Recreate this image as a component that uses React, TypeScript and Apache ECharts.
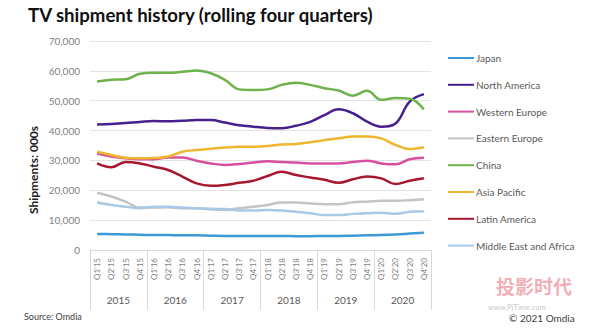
import React, { useEffect, useRef } from "react";
import * as echarts from "echarts";

const quarters = [
  "Q1'15", "Q2'15", "Q3'15", "Q4'15",
  "Q1'16", "Q2'16", "Q3'16", "Q4'16",
  "Q1'17", "Q2'17", "Q3'17", "Q4'17",
  "Q1'18", "Q2'18", "Q3'18", "Q4'18",
  "Q1'19", "Q2'19", "Q3'19", "Q4'19",
  "Q1'20", "Q2'20", "Q3'20", "Q4'20",
];
const years = ["2015", "2016", "2017", "2018", "2019", "2020"];
const yTicks = [0, 10000, 20000, 30000, 40000, 50000, 60000, 70000];

const japan = [5400, 5300, 5200, 5100, 5000, 5000, 4900, 4900, 4800, 4700, 4700, 4700, 4700, 4700, 4600, 4600, 4700, 4700, 4800, 4900, 5000, 5200, 5500, 5800];
const northAmerica = [42000, 42200, 42500, 42900, 43200, 43100, 43300, 43500, 43500, 42700, 41800, 41300, 40900, 40800, 41600, 42900, 45200, 47100, 45800, 43000, 41300, 42400, 49700, 52200];
const westernEurope = [32300, 31300, 30700, 30400, 30400, 31000, 31000, 29900, 29000, 28500, 28800, 29300, 29700, 29500, 29300, 29000, 29000, 29000, 29500, 29900, 29000, 28700, 30400, 30900];
const easternEurope = [19200, 17900, 16200, 14200, 14200, 14300, 14000, 14000, 13600, 13400, 14000, 14500, 15100, 15900, 15900, 15600, 15300, 15300, 16000, 16200, 16500, 16500, 16700, 17000];
const china = [56400, 57000, 57200, 59000, 59400, 59400, 59700, 60100, 59200, 57000, 53800, 53600, 53800, 55300, 56000, 55300, 54200, 53400, 51700, 53300, 50300, 50900, 50700, 47100];
const asiaPacific = [32900, 31800, 30900, 30700, 30800, 31300, 32900, 33500, 33900, 34300, 34600, 34600, 34800, 35300, 35500, 36100, 36800, 37400, 38000, 38000, 37400, 35200, 33800, 34400];
const latinAmerica = [29000, 27700, 29500, 29000, 27900, 26800, 24600, 22300, 21500, 21800, 22500, 23200, 24800, 26200, 25100, 24300, 23500, 22500, 23700, 24600, 24000, 22100, 23200, 24000];
const middleEastAfrica = [15900, 15100, 14500, 14000, 14500, 14500, 14200, 14000, 13800, 13700, 13200, 13200, 13400, 13200, 12800, 12300, 11700, 11700, 12100, 12300, 12500, 12100, 12800, 13000];

const seriesDefs = [
  { name: "Japan", data: japan, color: "#3d9ad6" },
  { name: "North America", data: northAmerica, color: "#46208f" },
  { name: "Western Europe", data: westernEurope, color: "#d6509f" },
  { name: "Eastern Europe", data: easternEurope, color: "#c3c3c3" },
  { name: "China", data: china, color: "#6db24b" },
  { name: "Asia Pacific", data: asiaPacific, color: "#efb52c" },
  { name: "Latin America", data: latinAmerica, color: "#a8172f" },
  { name: "Middle East and Africa", data: middleEastAfrica, color: "#a6c9e7" },
];

const FONT = "Lato";

export default function App() {
  const ref = useRef<HTMLDivElement>(null);
  useEffect(() => {
    if (!ref.current) return;
    const chart = echarts.init(ref.current, undefined, { renderer: "svg" });
    chart.setOption({
      animation: false,
      backgroundColor: "#ffffff",
      textStyle: { fontFamily: FONT },
      grid: { left: 90, right: 169, top: 41, bottom: 84 },
      legend: {
        orient: "vertical",
        left: 443,
        top: 48,
        itemWidth: 26,
        itemHeight: 12,
        itemGap: 16.8,
        icon: "path://M0,5 L26,5 L26,7 L0,7 Z",
        textStyle: { color: "#595959", fontSize: 10, fontFamily: FONT, padding: [0, 0, 0, -3] },
        data: seriesDefs.map((s) => s.name),
      },
      xAxis: [
        {
          type: "category",
          data: quarters,
          boundaryGap: true,
          axisLine: { show: true, lineStyle: { color: "#d9d9d9", width: 1 } },
          axisTick: { show: false },
          axisLabel: { rotate: 90, interval: 0, margin: 8, fontSize: 8, color: "#7f7f7f", fontFamily: FONT },
          splitLine: { show: false },
        },
        {
          type: "category",
          data: years,
          position: "bottom",
          offset: 0,
          boundaryGap: true,
          axisLine: { show: false },
          axisTick: { show: true, length: 60, lineStyle: { color: "#d9d9d9", width: 1 } },
          axisLabel: { margin: 45, fontSize: 10, color: "#595959", fontFamily: FONT },
          splitLine: { show: false },
        },
      ],
      yAxis: {
        type: "value",
        min: yTicks[0],
        max: yTicks[yTicks.length - 1],
        interval: 10000,
        axisLine: { show: false },
        axisTick: { show: false },
        axisLabel: {
          margin: 10,
          fontSize: 10,
          color: "#7f7f7f",
          fontFamily: FONT,
          formatter: (v: number) => v.toLocaleString("en-US"),
        },
        splitLine: { lineStyle: { color: "#e3e3e3", width: 1 } },
      },
      series: seriesDefs.map((s) => ({
        name: s.name,
        type: "line",
        data: s.data,
        xAxisIndex: 0,
        smooth: 0.4,
        symbol: "none",
        showSymbol: false,
        color: s.color,
        lineStyle: { color: s.color, width: 2.5 },
      })),
      graphic: [
        {
          type: "text",
          left: 28,
          top: 5,
          style: { text: "TV shipment history (rolling four quarters)", font: `bold 18.6px ${FONT}`, fill: "#111111" },
        },
        {
          type: "text",
          x: 33,
          y: 170,
          rotation: Math.PI / 2,
          style: { text: "Shipments: 000s", font: `bold 12px ${FONT}`, fill: "#222222", align: "center", verticalAlign: "middle" },
        },
        {
          type: "text",
          left: 24,
          top: 312,
          style: { text: "Source: Omdia", font: `9px ${FONT}`, fill: "#404040" },
        },
        {
          type: "text",
          left: 496,
          top: 276,
          style: { text: "投影时代", font: `bold 19px "Noto Sans CJK SC"`, fill: "#f0a0a8", opacity: 0.85 },
        },
        {
          type: "text",
          left: 488,
          top: 303,
          style: { text: "www.PjTime.com", font: `7.5px ${FONT}`, fill: "#c8c8c8" },
        },
        {
          type: "text",
          left: 509,
          top: 313,
          style: { text: "© 2021 Omdia", font: `10px ${FONT}`, fill: "#404040" },
        },
      ],
    });
    return () => chart.dispose();
  }, []);
  return <div ref={ref} style={{ width: 600, height: 334, position: "absolute", left: 0, top: 0 }} />;
}
